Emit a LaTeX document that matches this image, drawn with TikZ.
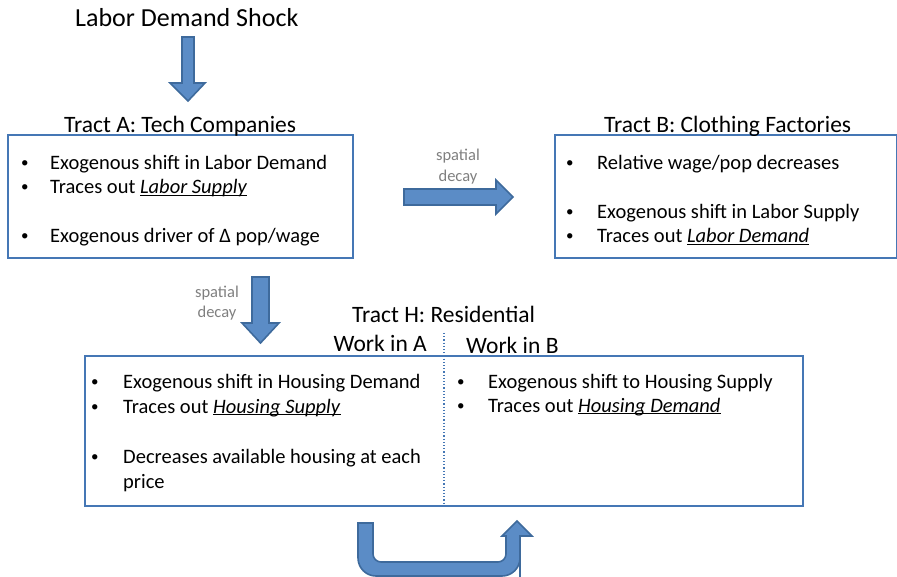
\documentclass[tikz,border=0pt]{standalone}
\usepackage{fontspec}
\setmainfont{Carlito}
\definecolor{boxblue}{HTML}{4577B5}
\definecolor{arrfill}{HTML}{5B8CC6}
\definecolor{arrline}{HTML}{3E6A9C}
\definecolor{graytxt}{HTML}{7F7F7F}
\newcommand{\myul}[1]{\setbox0\hbox{#1}\rlap{\rule[-2.4pt]{\wd0}{1.3pt}}\box0}
\begin{document}
\begin{tikzpicture}[x=1pt,y=-1pt,
  txt/.style={anchor=base west, inner sep=0pt, font=\fontsize{20.5}{24}\selectfont},
  bul/.style={anchor=base west, inner sep=0pt, font=\fontsize{15}{24}\selectfont, yshift=2pt},
  ttl/.style={anchor=base west, inner sep=0pt, font=\fontsize{23.5}{28}\selectfont},
  small/.style={anchor=base, inner sep=0pt, text=graytxt, font=\fontsize{16.5}{20}\selectfont},
  box/.style={draw=boxblue, line width=2.7pt, anchor=north west, inner sep=0pt, outer sep=0pt},
  blockarrow/.style={fill=arrfill, draw=arrline, line width=1.6pt, line join=miter}]
\useasboundingbox (0,0) rectangle (897,577);

% title
\node[anchor=base west, inner sep=0pt, font=\fontsize{26}{30}\selectfont] (shock) at (75,27) {Labor Demand Shock};
\draw[blockarrow] (182,37) -- (194,37) -- (194,83) -- (205,83) -- (188,101) -- (170,83) -- (182,83) -- cycle;

% Tract A
\node[box, minimum width=345pt, minimum height=123pt] (boxA) at (8,135) {};
\node[ttl] (tA) at (64,133) {Tract A: Tech Companies};
\node[bul] (a1b) at (21,170) {\textbullet};
\node[txt] (a1) at (50,170) {Exogenous shift in Labor Demand};
\node[bul] (a2b) at (21,194) {\textbullet};
\node[txt] (a2) at (50,194) {Traces out \myul{\textit{Labor Supply}}};
\node[bul] (a3b) at (21,243) {\textbullet};
\node[txt] (a3) at (50,243) {Exogenous driver of Δ pop/wage};

% spatial decay right
\node[small] (sd1a) at (458,161) {spatial};
\node[small] (sd1b) at (458,182) {decay};
\draw[blockarrow] (404,189) -- (496,189) -- (496,180) -- (513,197) -- (496,214) -- (496,205) -- (404,205) -- cycle;

% Tract B
\node[box, minimum width=342pt, minimum height=123pt] (boxB) at (555,135) {};
\node[ttl] (tB) at (604,133) {Tract B: Clothing Factories};
\node[bul] (b1b) at (566,170) {\textbullet};
\node[txt] (b1) at (597,170) {Relative wage/pop decreases};
\node[bul] (b2b) at (566,219) {\textbullet};
\node[txt] (b2) at (597,219) {Exogenous shift in Labor Supply};
\node[bul] (b3b) at (566,243) {\textbullet};
\node[txt] (b3) at (597,243) {Traces out \myul{\textit{Labor Demand}}};

% spatial decay down
\node[small] (sd2a) at (217,298) {spatial};
\node[small] (sd2b) at (217,318) {decay};
\draw[blockarrow] (252,277) -- (269,277) -- (269,323) -- (279,323) -- (260.5,343) -- (242,323) -- (252,323) -- cycle;

% Tract H
\node[ttl] (tH) at (352,323) {Tract H: Residential};
\node[ttl, anchor=base east] (wA) at (427,352) {Work in A};
\node[ttl] (wB) at (466,353) {Work in B};
\node[box, minimum width=718pt, minimum height=150pt] (boxH) at (85,356) {};
\coordinate (divtop) at (444,333);
\draw[boxblue, line width=1.2pt, dotted] (divtop) -- (divtop |- boxH.south);
\node[bul] (h1b) at (91,388) {\textbullet};
\node[txt] (h1) at (123,388) {Exogenous shift in Housing Demand};
\node[bul] (h2b) at (91,413) {\textbullet};
\node[txt] (h2) at (123,413) {Traces out \myul{\textit{Housing Supply}}};
\node[bul] (h3b) at (91,463) {\textbullet};
\node[txt] (h3) at (123,463) {Decreases available housing at each};
\node[txt] (h3c) at (123,488) {price};
\node[bul] (h4b) at (457,388) {\textbullet};
\node[txt] (h4) at (488,388) {Exogenous shift to Housing Supply};
\node[bul] (h5b) at (457,412) {\textbullet};
\node[txt] (h5) at (488,412) {Traces out \myul{\textit{Housing Demand}}};

% U arrow
\draw[blockarrow] (358,523) [rounded corners=18pt] -- (358,576) -- (520,576) -- (520,560) [sharp corners] -- (520,536) -- (532,536) -- (517,521) -- (502,536) -- (506,536) -- (506,545) [rounded corners=8pt] -- (506,562) -- (373,562) -- (373,545) [sharp corners] -- (373,523) -- cycle;
\end{tikzpicture}
\end{document}
